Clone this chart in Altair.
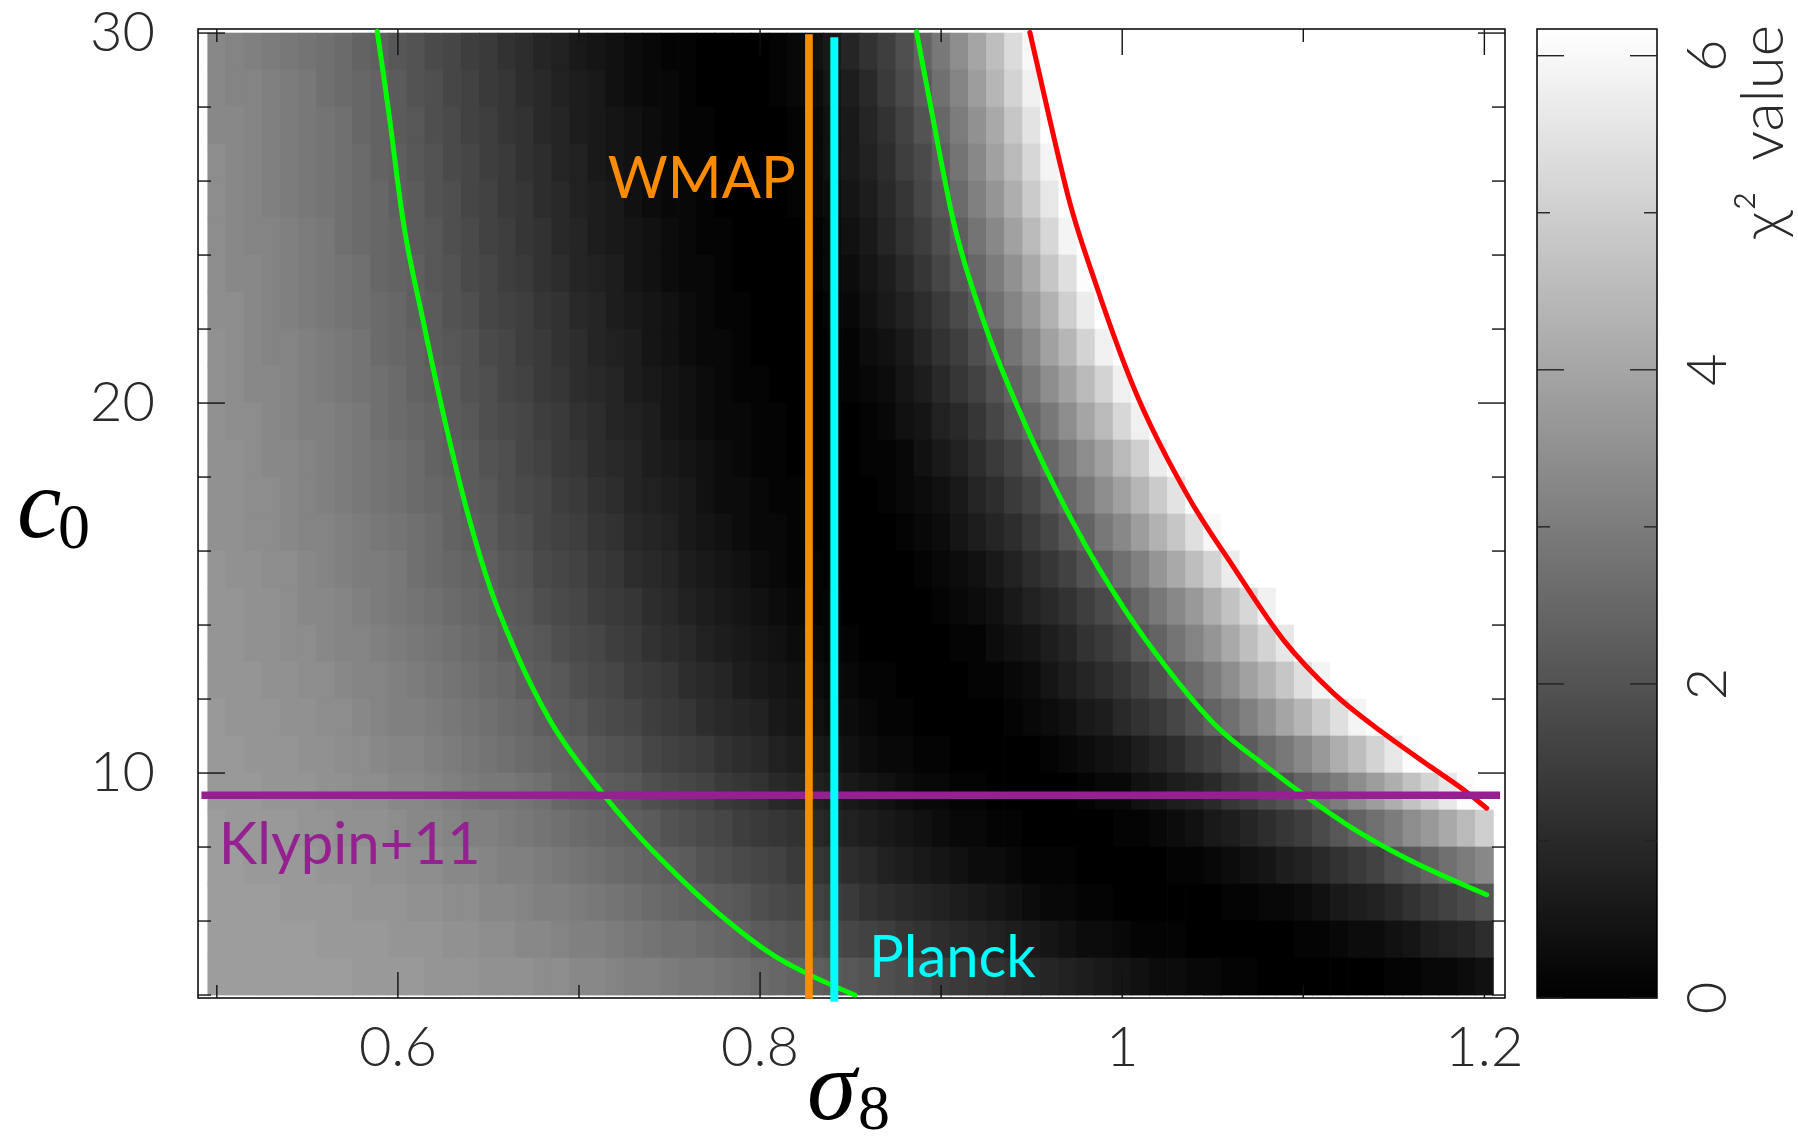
import altair as alt
import pandas as pd

# ---------------- data ----------------
sigma8_grid = [0.50, 0.51, 0.52, 0.53, 0.54, 0.55, 0.56, 0.57, 0.58, 0.59,
               0.60, 0.61, 0.62, 0.63, 0.64, 0.65, 0.66, 0.67, 0.68, 0.69,
               0.70, 0.71, 0.72, 0.73, 0.74, 0.75, 0.76, 0.77, 0.78, 0.79,
               0.80, 0.81, 0.82, 0.83, 0.84, 0.85, 0.86, 0.87, 0.88, 0.89,
               0.90, 0.91, 0.92, 0.93, 0.94, 0.95, 0.96, 0.97, 0.98, 0.99,
               1.00, 1.01, 1.02, 1.03, 1.04, 1.05, 1.06, 1.07, 1.08, 1.09,
               1.10, 1.11, 1.12, 1.13, 1.14, 1.15, 1.16, 1.17, 1.18, 1.19, 1.20]

c0_grid = [29.5, 28.5, 27.5, 26.5, 25.5, 24.5, 23.5, 22.5, 21.5, 20.5, 19.5, 18.5, 17.5,
           16.5, 15.5, 14.5, 13.5, 12.5, 11.5, 10.5, 9.5, 8.5, 7.5, 6.5, 5.5, 4.5]

chi2_grid = [
    [3.3,3.2,3.1,3.0,2.9,2.8,2.7,2.6,2.4,2.3,2.1,2.0,1.8,1.7,1.5,1.4,1.2,1.1,0.9,0.8,0.6,0.5,0.4,0.3,0.2,0.1,0.1,0.0,0.0,
     0.0,0.0,0.1,0.2,0.4,0.6,0.9,1.2,1.5,1.9,2.4,2.9,3.4,4.0,4.6,5.3,6.0] + [6.2] * 25,
    [3.3,3.2,3.2,3.1,3.0,2.9,2.7,2.6,2.5,2.4,2.2,2.0,1.9,1.7,1.6,1.4,1.3,1.1,1.0,0.8,0.7,0.6,0.4,0.3,0.2,0.2,0.1,0.0,0.0,0.0,
     0.0,0.1,0.2,0.3,0.5,0.7,1.0,1.4,1.8,2.2,2.7,3.2,3.8,4.4,5.1,5.8] + [6.2] * 25,
    [3.3,3.3,3.2,3.1,3.0,2.9,2.8,2.7,2.5,2.4,2.2,2.1,1.9,1.8,1.6,1.5,1.3,1.2,1.0,0.9,0.7,0.6,0.5,0.4,0.3,0.2,0.1,0.1,0.0,0.0,
     0.0,0.0,0.1,0.2,0.4,0.6,0.9,1.2,1.6,2.0,2.5,3.0,3.5,4.1,4.8,5.5] + [6.2] * 25,
    [3.4,3.3,3.2,3.1,3.0,2.9,2.8,2.7,2.6,2.4,2.3,2.1,2.0,1.8,1.7,1.5,1.4,1.2,1.1,0.9,0.8,0.6,0.5,0.4,0.3,0.2,0.1,0.1,0.0,0.0,0.0,
     0.0,0.1,0.2,0.4,0.6,0.8,1.1,1.5,1.8,2.3,2.8,3.3,3.9,4.5,5.2,5.9] + [6.2] * 24,
    [3.4,3.3,3.2,3.1,3.0,2.9,2.8,2.7,2.6,2.5,2.3,2.2,2.0,1.9,1.7,1.6,1.4,1.3,1.1,1.0,0.8,0.7,0.6,0.4,0.3,0.2,0.2,0.1,0.0,0.0,0.0,
     0.0,0.1,0.2,0.3,0.5,0.7,1.0,1.3,1.7,2.1,2.6,3.1,3.6,4.2,4.9,5.6] + [6.2] * 24,
    [3.4,3.3,3.2,3.2,3.1,3.0,2.9,2.7,2.6,2.5,2.4,2.2,2.1,1.9,1.8,1.6,1.5,1.3,1.2,1.0,0.9,0.7,0.6,0.5,0.4,0.3,0.2,0.1,0.1,0.0,0.0,
     0.0,0.0,0.1,0.2,0.4,0.6,0.9,1.2,1.5,1.9,2.3,2.8,3.3,3.9,4.5,5.2,5.9] + [6.2] * 23,
    [3.4,3.3,3.3,3.2,3.1,3.0,2.9,2.8,2.7,2.5,2.4,2.3,2.1,2.0,1.8,1.7,1.5,1.4,1.2,1.1,0.9,0.8,0.7,0.5,0.4,0.3,0.2,0.2,0.1,0.0,0.0,0.0,
     0.0,0.1,0.2,0.3,0.5,0.7,1.0,1.3,1.7,2.1,2.5,3.0,3.5,4.1,4.8,5.4,6.1] + [6.2] * 22,
    [3.4,3.4,3.3,3.2,3.1,3.0,2.9,2.8,2.7,2.6,2.5,2.3,2.2,2.0,1.9,1.7,1.6,1.5,1.3,1.2,1.0,0.9,0.7,0.6,0.5,0.4,0.3,0.2,0.1,0.1,0.0,0.0,
     0.0,0.0,0.1,0.2,0.4,0.6,0.8,1.1,1.4,1.8,2.2,2.7,3.2,3.7,4.3,5.0,5.7] + [6.2] * 22,
    [3.5,3.4,3.3,3.2,3.2,3.1,3.0,2.9,2.8,2.6,2.5,2.4,2.2,2.1,2.0,1.8,1.7,1.5,1.4,1.2,1.1,0.9,0.8,0.7,0.5,0.4,0.3,0.2,0.2,0.1,0.0,0.0,0.0,
     0.0,0.0,0.1,0.3,0.4,0.6,0.9,1.2,1.5,1.9,2.3,2.8,3.3,3.9,4.4,5.1,5.8] + [6.2] * 21,
    [3.5,3.4,3.3,3.3,3.2,3.1,3.0,2.9,2.8,2.7,2.6,2.4,2.3,2.2,2.0,1.9,1.7,1.6,1.4,1.3,1.1,1.0,0.9,0.7,0.6,0.5,0.4,0.3,0.2,0.1,0.1,0.0,0.0,0.0,
     0.0,0.1,0.2,0.3,0.5,0.7,1.0,1.3,1.6,2.0,2.4,2.9,3.4,3.9,4.5,5.1,5.8] + [6.2] * 20,
    [3.5,3.4,3.4,3.3,3.2,3.1,3.1,3.0,2.9,2.7,2.6,2.5,2.4,2.2,2.1,1.9,1.8,1.7,1.5,1.4,1.2,1.1,0.9,0.8,0.7,0.5,0.4,0.3,0.2,0.2,0.1,0.1,0.0,0.0,
     0.0,0.0,0.1,0.2,0.4,0.5,0.8,1.0,1.3,1.7,2.1,2.5,2.9,3.4,4.0,4.5,5.2,5.8] + [6.2] * 19,
    [3.5,3.5,3.4,3.3,3.3,3.2,3.1,3.0,2.9,2.8,2.7,2.6,2.4,2.3,2.2,2.0,1.9,1.7,1.6,1.4,1.3,1.1,1.0,0.9,0.7,0.6,0.5,0.4,0.3,0.2,0.1,0.1,0.0,0.0,0.0,
     0.0,0.1,0.1,0.2,0.4,0.6,0.8,1.1,1.4,1.7,2.1,2.5,2.9,3.4,3.9,4.5,5.0,5.7] + [6.2] * 18,
    [3.5,3.5,3.4,3.4,3.3,3.2,3.1,3.0,2.9,2.8,2.7,2.6,2.5,2.4,2.2,2.1,1.9,1.8,1.7,1.5,1.4,1.2,1.1,0.9,0.8,0.7,0.6,0.4,0.3,0.3,0.2,0.1,0.1,0.0,0.0,
     0.0,0.0,0.1,0.2,0.3,0.4,0.6,0.9,1.1,1.4,1.7,2.1,2.5,2.9,3.4,3.9,4.4,4.9,5.5] + [6.2] * 17,
    [3.5,3.5,3.4,3.4,3.3,3.2,3.2,3.1,3.0,2.9,2.8,2.7,2.6,2.4,2.3,2.2,2.0,1.9,1.7,1.6,1.5,1.3,1.2,1.0,0.9,0.8,0.6,0.5,0.4,0.3,0.2,0.2,0.1,0.0,0.0,0.0,
     0.0,0.0,0.1,0.2,0.3,0.5,0.7,0.9,1.1,1.4,1.7,2.1,2.4,2.9,3.3,3.8,4.3,4.8,5.4,6.0] + [6.2] * 15,
    [3.6,3.5,3.5,3.4,3.4,3.3,3.2,3.1,3.0,3.0,2.9,2.7,2.6,2.5,2.4,2.3,2.1,2.0,1.8,1.7,1.6,1.4,1.3,1.1,1.0,0.9,0.7,0.6,0.5,0.4,0.3,0.2,0.1,0.1,0.0,0.0,0.0,
     0.0,0.0,0.1,0.2,0.3,0.4,0.6,0.8,1.1,1.3,1.6,2.0,2.3,2.7,3.1,3.6,4.1,4.6,5.1,5.7] + [6.2] * 14,
    [3.6,3.6,3.5,3.5,3.4,3.3,3.3,3.2,3.1,3.0,2.9,2.8,2.7,2.6,2.5,2.4,2.2,2.1,1.9,1.8,1.7,1.5,1.4,1.3,1.1,1.0,0.8,0.7,0.6,0.5,0.4,0.3,0.2,0.1,0.1,0.0,0.0,0.0,
     0.0,0.0,0.1,0.2,0.3,0.4,0.6,0.8,1.0,1.2,1.5,1.8,2.1,2.5,2.9,3.3,3.7,4.2,4.7,5.2,5.8] + [6.2] * 12,
    [3.6,3.6,3.5,3.5,3.4,3.4,3.3,3.2,3.2,3.1,3.0,2.9,2.8,2.7,2.6,2.5,2.3,2.2,2.1,1.9,1.8,1.7,1.5,1.4,1.2,1.1,1.0,0.8,0.7,0.6,0.5,0.4,0.3,0.2,0.1,0.1,0.0,0.0,0.0,
     0.0,0.0,0.1,0.1,0.3,0.4,0.5,0.7,0.9,1.2,1.4,1.7,2.1,2.4,2.8,3.2,3.6,4.1,4.6,5.1,5.6,6.2] + [6.2] * 10,
    [3.6,3.6,3.6,3.5,3.5,3.4,3.4,3.3,3.2,3.2,3.1,3.0,2.9,2.8,2.7,2.6,2.5,2.3,2.2,2.1,1.9,1.8,1.7,1.5,1.4,1.3,1.1,1.0,0.9,0.7,0.6,0.5,0.4,0.3,0.2,0.2,0.1,0.1,0.0,0.0,
     0.0,0.0,0.1,0.1,0.2,0.3,0.5,0.7,0.9,1.1,1.3,1.6,1.9,2.3,2.6,3.0,3.4,3.9,4.3,4.8,5.4,5.9] + [6.2] * 9,
    [3.7,3.6,3.6,3.6,3.5,3.5,3.4,3.4,3.3,3.2,3.1,3.1,3.0,2.9,2.8,2.7,2.6,2.5,2.3,2.2,2.1,1.9,1.8,1.7,1.5,1.4,1.3,1.1,1.0,0.9,0.8,0.6,0.5,0.4,0.3,0.3,0.2,0.1,0.1,0.0,0.0,0.0,
     0.0,0.0,0.1,0.2,0.3,0.4,0.6,0.7,1.0,1.2,1.4,1.7,2.0,2.4,2.7,3.1,3.5,4.0,4.4,4.9,5.4,5.9] + [6.2] * 7,
    [3.7,3.7,3.6,3.6,3.6,3.5,3.5,3.4,3.4,3.3,3.2,3.2,3.1,3.0,2.9,2.8,2.7,2.6,2.5,2.4,2.3,2.1,2.0,1.9,1.7,1.6,1.5,1.4,1.2,1.1,1.0,0.8,0.7,0.6,0.5,0.4,0.3,0.2,0.2,0.1,0.1,0.0,0.0,0.0,
     0.0,0.0,0.1,0.2,0.3,0.4,0.5,0.7,0.9,1.1,1.4,1.6,1.9,2.2,2.6,2.9,3.3,3.7,4.2,4.6,5.1,5.6,6.1] + [6.2] * 4,
    [3.7,3.7,3.7,3.6,3.6,3.6,3.5,3.5,3.4,3.4,3.3,3.3,3.2,3.1,3.0,2.9,2.9,2.8,2.7,2.5,2.4,2.3,2.2,2.1,1.9,1.8,1.7,1.6,1.4,1.3,1.2,1.0,0.9,0.8,0.7,0.6,0.5,0.4,0.3,0.2,0.2,0.1,0.1,0.0,0.0,0.0,
     0.0,0.0,0.1,0.2,0.2,0.4,0.5,0.7,0.8,1.0,1.3,1.5,1.8,2.0,2.4,2.7,3.0,3.4,3.8,4.2,4.7,5.1,5.6,6.1,6.2],
    [3.8,3.7,3.7,3.7,3.7,3.6,3.6,3.5,3.5,3.5,3.4,3.3,3.3,3.2,3.1,3.1,3.0,2.9,2.8,2.7,2.6,2.5,2.4,2.3,2.2,2.0,1.9,1.8,1.7,1.5,1.4,1.3,1.2,1.0,0.9,0.8,0.7,0.6,0.5,0.4,0.3,0.2,0.2,0.1,0.1,0.0,0.0,0.0,
     0.0,0.0,0.1,0.1,0.2,0.3,0.4,0.6,0.7,0.9,1.1,1.3,1.5,1.8,2.1,2.4,2.7,3.0,3.4,3.7,4.1,4.5,5.0],
    [3.8,3.8,3.7,3.7,3.7,3.7,3.6,3.6,3.6,3.5,3.5,3.4,3.4,3.3,3.3,3.2,3.1,3.1,3.0,2.9,2.8,2.7,2.6,2.5,2.4,2.3,2.2,2.0,1.9,1.8,1.7,1.6,1.4,1.3,1.2,1.1,1.0,0.8,0.7,0.6,0.5,0.4,0.3,0.3,0.2,0.1,0.1,0.1,0.0,0.0,0.0,
     0.0,0.0,0.1,0.1,0.2,0.3,0.4,0.5,0.7,0.8,1.0,1.2,1.4,1.6,1.9,2.1,2.4,2.7,3.0,3.3],
    [3.8,3.8,3.8,3.8,3.7,3.7,3.7,3.7,3.6,3.6,3.6,3.5,3.5,3.4,3.4,3.3,3.3,3.2,3.1,3.1,3.0,2.9,2.8,2.7,2.6,2.5,2.4,2.3,2.2,2.1,1.9,1.8,1.7,1.6,1.5,1.4,1.2,1.1,1.0,0.9,0.8,0.7,0.6,0.5,0.4,0.3,0.2,0.2,0.1,0.1,0.0,0.0,0.0,0.0,
     0.0,0.0,0.1,0.1,0.2,0.2,0.3,0.4,0.6,0.7,0.8,1.0,1.2,1.4,1.6,1.8,2.0],
    [3.8,3.8,3.8,3.8,3.8,3.8,3.7,3.7,3.7,3.7,3.6,3.6,3.6,3.5,3.5,3.4,3.4,3.3,3.3,3.2,3.1,3.1,3.0,2.9,2.8,2.7,2.7,2.6,2.5,2.4,2.2,2.1,2.0,1.9,1.8,1.7,1.6,1.5,1.3,1.2,1.1,1.0,0.9,0.8,0.7,0.6,0.5,0.4,0.3,0.3,0.2,0.1,0.1,0.1,0.0,0.0,0.0,
     0.0,0.0,0.0,0.1,0.1,0.2,0.3,0.3,0.4,0.5,0.7,0.8,0.9,1.1],
    [3.8,3.8,3.8,3.8,3.8,3.8,3.8,3.8,3.7,3.7,3.7,3.7,3.6,3.6,3.6,3.5,3.5,3.5,3.4,3.4,3.3,3.3,3.2,3.1,3.1,3.0,2.9,2.9,2.8,2.7,2.6,2.5,2.4,2.3,2.2,2.1,2.0,1.9,1.8,1.7,1.5,1.4,1.3,1.2,1.1,1.0,0.9,0.8,0.7,0.6,0.5,0.4,0.3,0.3,0.2,0.2,0.1,0.1,0.0,0.0,0.0,0.0,
     0.0,0.0,0.0,0.1,0.1,0.2,0.2,0.3,0.4],
]

# contour lines (sigma8, c0)
green_left_s = [0.5886, 0.5945, 0.6028, 0.6138, 0.6258, 0.6395, 0.6507, 0.6654, 0.6838, 0.7114,
                0.7298, 0.7575, 0.7820, 0.8085, 0.8235, 0.8523]
green_left_c = [30.05, 28.02, 24.95, 22.25, 19.55, 16.85, 15.04, 13.24, 11.44, 9.55,
                8.47, 7.08, 6.00, 5.04, 4.64, 4.00]
green_right_s = [0.8864, 0.8956, 0.9066, 0.9232, 0.9453, 0.9720, 0.9865, 1.0015, 1.0240, 1.0522,
                 1.0795, 1.0978, 1.1255, 1.1530, 1.2013]
green_right_c = [30.04, 27.66, 24.95, 22.25, 19.55, 16.85, 15.58, 14.41, 12.88, 11.26,
                 10.18, 9.50, 8.56, 7.79, 6.71]
red_s = [0.9490, 0.9600, 0.9711, 0.9859, 1.0061, 1.0374, 1.0613, 1.0890, 1.1166,
         1.1442, 1.1700, 1.1885, 1.2013]
red_c = [30.02, 27.66, 25.41, 23.15, 20.45, 17.39, 15.58, 13.60, 12.16,
         11.08, 10.18, 9.55, 9.05]

wmap_sigma8 = 0.827
planck_sigma8 = 0.841
klypin_c0 = 9.40

x_major = [0.6, 0.8, 1.0, 1.2]
x_major_labels = ["0.6", "0.8", "1", "1.2"]
x_minor = [0.5, 0.7, 0.9, 1.1]
y_major = [10, 20, 30]
y_major_labels = ["10", "20", "30"]
y_minor = [4, 6, 8, 12, 14, 16, 18, 22, 24, 26, 28]
cb_major = [0, 2, 4, 6]
cb_major_labels = ["0", "2", "4", "6"]
cb_minor = [1, 3, 5]
chi2_max = 6.17

# ---------------- layout ----------------
W, H = 1307, 969
PAD = {"left": 198, "top": 29, "right": 293, "bottom": 149}
LABEL_FONT = "Lato"
LABEL_SIZE = 56
LABEL_COLOR = "#2a2a2a"
TICK_COLOR = "#111111"

xs = alt.Scale(domain=[0.4896, 1.2114], nice=False, zero=False)
ys = alt.Scale(domain=[3.92, 30.11], nice=False, zero=False)
cbs = alt.Scale(domain=[0, chi2_max], nice=False, zero=False)

recs = []
for c, row in zip(c0_grid, chi2_grid):
    for s, v in zip(sigma8_grid, row):
        recs.append({"x0": s - 0.0052, "x1": s + 0.0052,
                     "y0": max(c - 0.51, 3.97), "y1": min(c + 0.51, 30.05), "chi2": v})
heat_df = pd.DataFrame(recs)

heat = alt.Chart(heat_df).mark_rect().encode(
    x=alt.X("x0:Q", scale=xs, axis=None),
    x2="x1:Q",
    y=alt.Y("y0:Q", scale=ys, axis=None),
    y2="y1:Q",
    color=alt.Color("chi2:Q", scale=alt.Scale(domain=[0, chi2_max], range=["#000000", "#ffffff"],
                                              interpolate="rgb", clamp=True), legend=None),
)


def curve(sv, cv, color):
    d = pd.DataFrame({"sigma8": sv, "c0": cv, "i": list(range(len(sv)))})
    return alt.Chart(d).mark_line(color=color, strokeWidth=5, strokeCap="round",
                                  interpolate="monotone").encode(
        x=alt.X("sigma8:Q", scale=xs, axis=None),
        y=alt.Y("c0:Q", scale=ys, axis=None),
        order="i:Q",
    )


def xticks(vals, length, top):
    d = pd.DataFrame({"v": vals})
    y1, y2 = (0, length) if top else (H, H - length)
    return alt.Chart(d).mark_rule(color=TICK_COLOR, strokeWidth=1.4).encode(
        x=alt.X("v:Q", scale=xs, axis=None), y=alt.value(y1), y2=alt.value(y2))


def yticks(vals, length, right):
    d = pd.DataFrame({"v": vals})
    x1, x2 = (W, W - length) if right else (0, length)
    return alt.Chart(d).mark_rule(color=TICK_COLOR, strokeWidth=1.4).encode(
        y=alt.Y("v:Q", scale=ys, axis=None), x=alt.value(x1), x2=alt.value(x2))


x_labels = alt.Chart(pd.DataFrame({"v": x_major, "t": x_major_labels})).mark_text(
    align="center", baseline="alphabetic", font=LABEL_FONT, fontSize=LABEL_SIZE, fontWeight=300,
    color=LABEL_COLOR).encode(
    x=alt.X("v:Q", scale=xs, axis=None), y=alt.value(H + 68), text="t:N")

y_labels = alt.Chart(pd.DataFrame({"v": y_major, "t": y_major_labels})).mark_text(
    align="right", baseline="alphabetic", dy=18, font=LABEL_FONT, fontSize=LABEL_SIZE, fontWeight=300,
    color=LABEL_COLOR).encode(
    y=alt.Y("v:Q", scale=ys, axis=None), x=alt.value(-43), text="t:N")

purple = "#94218F"
klypin_line = alt.Chart(pd.DataFrame({"a": [0.4915], "b": [1.2087], "c": [klypin_c0]})).mark_rule(
    color=purple, strokeWidth=7.5).encode(
    x=alt.X("a:Q", scale=xs, axis=None), x2="b:Q", y=alt.Y("c:Q", scale=ys, axis=None))

wmap_line = alt.Chart(pd.DataFrame({"s": [wmap_sigma8], "lo": [3.90], "hi": [29.97]})).mark_rule(
    color="#FF8C00", strokeWidth=7.7).encode(
    x=alt.X("s:Q", scale=xs, axis=None), y=alt.Y("lo:Q", scale=ys, axis=None), y2="hi:Q")

planck_line = alt.Chart(pd.DataFrame({"s": [planck_sigma8], "lo": [3.82], "hi": [29.89]})).mark_rule(
    color="#00FFFF", strokeWidth=8).encode(
    x=alt.X("s:Q", scale=xs, axis=None), y=alt.Y("lo:Q", scale=ys, axis=None), y2="hi:Q")


def label(text, s, c, color, align):
    d = pd.DataFrame({"s": [s], "c": [c], "t": [text]})
    return alt.Chart(d).mark_text(align=align, baseline="alphabetic", font="Lato", fontSize=58,
                                  color=color).encode(
        x=alt.X("s:Q", scale=xs, axis=None), y=alt.Y("c:Q", scale=ys, axis=None), text="t:N")


one = pd.DataFrame({"a": [0]})


def free_text(t, x, y, size, style):
    return alt.Chart(one).mark_text(align="left", baseline="alphabetic", font="Liberation Serif",
                                    fontSize=size, fontStyle=style, color="#000000").encode(
        x=alt.value(x), y=alt.value(y), text=alt.value(t))


main = alt.layer(
    heat,
    xticks(x_major, 26, False), xticks(x_minor, 13, False),
    xticks(x_major, 26, True), xticks(x_minor, 13, True),
    yticks(y_major, 27, False), yticks(y_minor, 13, False),
    yticks(y_major, 27, True), yticks(y_minor, 13, True),
    x_labels, y_labels,
    curve(green_left_s, green_left_c, "#00FF00"),
    curve(green_right_s, green_right_c, "#00FF00"),
    curve(red_s, red_c, "#FF0000"),
    klypin_line, wmap_line, planck_line,
    label("WMAP", 0.8197, 25.54, "#FF8C00", "right"),
    label("Planck", 0.8602, 4.50, "#00FFFF", "left"),
    label("Klypin+11", 0.5011, 7.54, purple, "left"),
    free_text("σ", 609, 1090, 100, "italic"),
    free_text("8", 660, 1100, 64, "normal"),
    free_text("c", -181, 508, 100, "italic"),
    free_text("0", -140, 519, 64, "normal"),
)

# ---------------- colour bar ----------------
CB_L, CB_R = 1339, 1459
grad = alt.LinearGradient(gradient="linear",
                          stops=[alt.GradientStop(color="#000000", offset=0),
                                 alt.GradientStop(color="#ffffff", offset=1)],
                          x1=0, x2=0, y1=1, y2=0)
cb_rect = alt.Chart(pd.DataFrame({"lo": [0.0], "hi": [chi2_max]})).mark_rect(
    fill=grad, stroke="#000000", strokeWidth=1.5).encode(
    x=alt.value(CB_L), x2=alt.value(CB_R),
    y=alt.Y("lo:Q", scale=cbs, axis=None),
    y2="hi:Q",
)


def cbticks(vals, length):
    d = pd.DataFrame({"v": vals})
    left = alt.Chart(d).mark_rule(color="#222222", strokeWidth=1.4).encode(
        y=alt.Y("v:Q", scale=cbs, axis=None), x=alt.value(CB_L), x2=alt.value(CB_L + length))
    right = alt.Chart(d).mark_rule(color="#222222", strokeWidth=1.4).encode(
        y=alt.Y("v:Q", scale=cbs, axis=None), x=alt.value(CB_R - length), x2=alt.value(CB_R))
    return [left, right]


cb_labels = alt.Chart(pd.DataFrame({"v": cb_major, "t": cb_major_labels})).mark_text(
    align="center", baseline="alphabetic", angle=270, font=LABEL_FONT, fontSize=LABEL_SIZE,
    fontWeight=300, color=LABEL_COLOR).encode(
    y=alt.Y("v:Q", scale=cbs, axis=None), x=alt.value(1528), text="t:N")

cb_title = alt.Chart(one).mark_text(
    align="right", baseline="alphabetic", angle=270, font=LABEL_FONT, fontSize=60, fontWeight=300,
    color=LABEL_COLOR).encode(
    x=alt.value(1585), y=alt.value(-4), text=alt.value("χ²\u2002value"))

colorbar = alt.layer(cb_rect, *cbticks(cb_major, 27), *cbticks(cb_minor, 13), cb_labels, cb_title)

chart = alt.layer(main, colorbar).resolve_scale(y="independent").properties(
    width=W, height=H, padding=PAD, autosize=alt.AutoSizeParams(type="none"),
    background="white",
).configure_view(stroke="#000000", strokeWidth=1.5)

chart.save("out.html", embed_options={"renderer": "svg", "actions": False})
